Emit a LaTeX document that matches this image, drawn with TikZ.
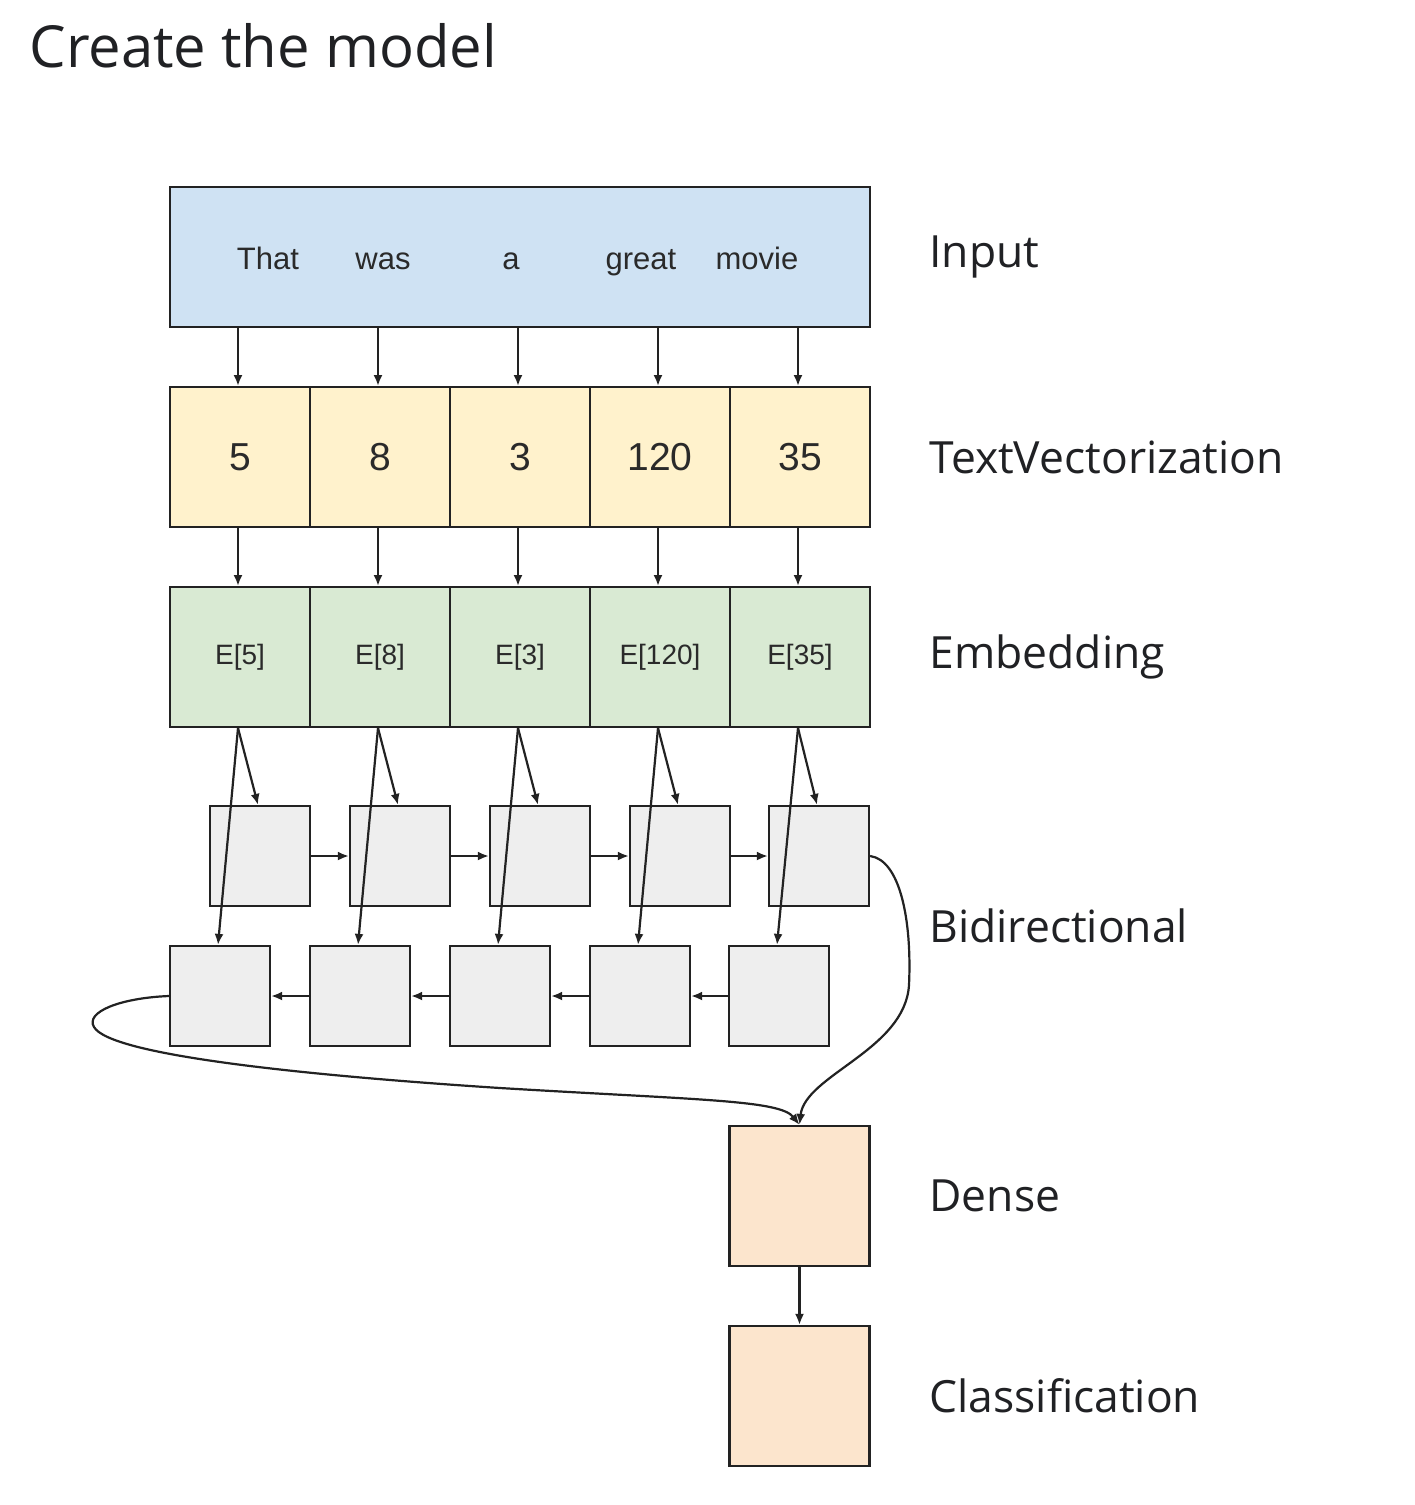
\documentclass[tikz,border=0pt]{standalone}
\usepackage{fontspec}
\setmainfont{Liberation Sans}
\newfontfamily\labfont{Open Sans}
\usetikzlibrary{arrows.meta}
\definecolor{inblue}{HTML}{CFE2F3}
\definecolor{tvyel}{HTML}{FFF2CC}
\definecolor{emgreen}{HTML}{D9EAD3}
\definecolor{rnngray}{HTML}{EEEEEE}
\definecolor{dnpeach}{HTML}{FCE5CD}
\definecolor{edge}{HTML}{222222}
\definecolor{txt}{HTML}{2A2A2A}
\definecolor{labtxt}{HTML}{202124}
\tikzset{
  cellbox/.style={draw=edge, line width=2.2pt, inner sep=0pt, minimum width=140pt, minimum height=140pt},
  smallbox/.style={draw=edge, line width=2.2pt, inner sep=0pt, minimum width=100pt, minimum height=100pt, fill=rnngray},
  conn/.style={draw=edge, line width=2.2pt, -{Latex[length=11pt,width=9pt]}},
  wordtxt/.style={anchor=base, text=txt, font=\fontsize{31}{36}\selectfont},
  numtxt/.style={text=txt, font=\fontsize{39}{44}\selectfont},
  embtxt/.style={text=txt, font=\fontsize{28}{32}\selectfont},
  sidelab/.style={anchor=west, text=labtxt, font=\labfont\fontsize{44.4}{50}\selectfont},
}
\begin{document}
\begin{tikzpicture}[x=1pt,y=-1pt]
\useasboundingbox[fill=white] (0,0) rectangle (1415,1505);

\node[anchor=base west, text=labtxt, font=\labfont\fontsize{58}{64}\selectfont] (title) at (26,67) {Create the model};

% Input
\node[cellbox, fill=inblue, minimum width=700pt] (input) at (520,257) {};
\node[wordtxt] (w1) at (268,269) {That};
\node[wordtxt] (w2) at (383,269) {was};
\node[wordtxt] (w3) at (511,269) {a};
\node[wordtxt] (w4) at (641,269) {great};
\node[wordtxt] (w5) at (757,269) {movie};

% TextVectorization
\node[cellbox, fill=tvyel] (t1) at (240,457) {};
\node[cellbox, fill=tvyel] (t2) at (380,457) {};
\node[cellbox, fill=tvyel] (t3) at (520,457) {};
\node[cellbox, fill=tvyel] (t4) at (660,457) {};
\node[cellbox, fill=tvyel] (t5) at (800,457) {};
\node[numtxt] at (t1) {5};
\node[numtxt] at (t2) {8};
\node[numtxt] at (t3) {3};
\node[numtxt] at (t4) {120};
\node[numtxt] at (t5) {35};

% Embedding
\node[cellbox, fill=emgreen] (e1) at (240,657) {};
\node[cellbox, fill=emgreen] (e2) at (380,657) {};
\node[cellbox, fill=emgreen] (e3) at (520,657) {};
\node[cellbox, fill=emgreen] (e4) at (660,657) {};
\node[cellbox, fill=emgreen] (e5) at (800,657) {};
\node[embtxt] at (e1) {E[5]};
\node[embtxt] at (e2) {E[8]};
\node[embtxt] at (e3) {E[3]};
\node[embtxt] at (e4) {E[120]};
\node[embtxt] at (e5) {E[35]};

% arrows input -> tv -> emb
\foreach \i/\x in {1/238,2/378,3/518,4/658,5/798}{
  \coordinate (is\i) at (\x,328);
  \coordinate (ts\i) at (\x,528);
  \coordinate (tn\i) at (\x,386);
  \coordinate (en\i) at (\x,586);
  \coordinate (es\i) at (\x,728);
  \draw[conn] (is\i) -- (tn\i);
  \draw[conn] (ts\i) -- (en\i);
}

% Bidirectional forward row
\node[smallbox] (f1) at (260,856) {};
\node[smallbox] (f2) at (400,856) {};
\node[smallbox] (f3) at (540,856) {};
\node[smallbox] (f4) at (680,856) {};
\node[smallbox] (f5) at (819,856) {};
% backward row
\node[smallbox] (b1) at (220,996) {};
\node[smallbox] (b2) at (360,996) {};
\node[smallbox] (b3) at (500,996) {};
\node[smallbox] (b4) at (640,996) {};
\node[smallbox] (b5) at (779,996) {};

\foreach \i in {1,...,5}{
  \draw[conn] (es\i) -- ([xshift=-2pt]f\i.north);
  \draw[conn] (es\i) -- ([xshift=-2pt]b\i.north);
}
\draw[conn] (f1.east) -- (f2.west);
\draw[conn] (f2.east) -- (f3.west);
\draw[conn] (f3.east) -- (f4.west);
\draw[conn] (f4.east) -- (f5.west);
\draw[conn] (b5.west) -- (b4.east);
\draw[conn] (b4.west) -- (b3.east);
\draw[conn] (b3.west) -- (b2.east);
\draw[conn] (b2.west) -- (b1.east);

% Dense and classification
\node[cellbox, fill=dnpeach] (dense) at (799.5,1196) {};
\node[cellbox, fill=dnpeach] (cls) at (799.5,1396) {};
\draw[conn] (dense.south) -- (cls.north);

\draw[conn] (f5.east) .. controls (900,860) and (912,920) .. (909,985)
  .. controls (905,1050) and (805,1075) .. (dense.north);
\draw[conn] (b1.west) .. controls (120,998) and (85,1012) .. (94,1027)
  .. controls (110,1055) and (300,1075) .. (500,1088)
  .. controls (700,1100) and (780,1100) .. (dense.north);

% side labels
\node[sidelab] (lin) at (926,257) {Input};
\node[sidelab] (ltv) at (926,457) {TextVectorization};
\node[sidelab] (lem) at (926,657) {Embedding};
\node[sidelab] (lbi) at (926,926) {Bidirectional};
\node[sidelab] (lde) at (926,1196) {Dense};
\node[sidelab] (lcl) at (926,1396) {Classification};
\end{tikzpicture}
\end{document}
